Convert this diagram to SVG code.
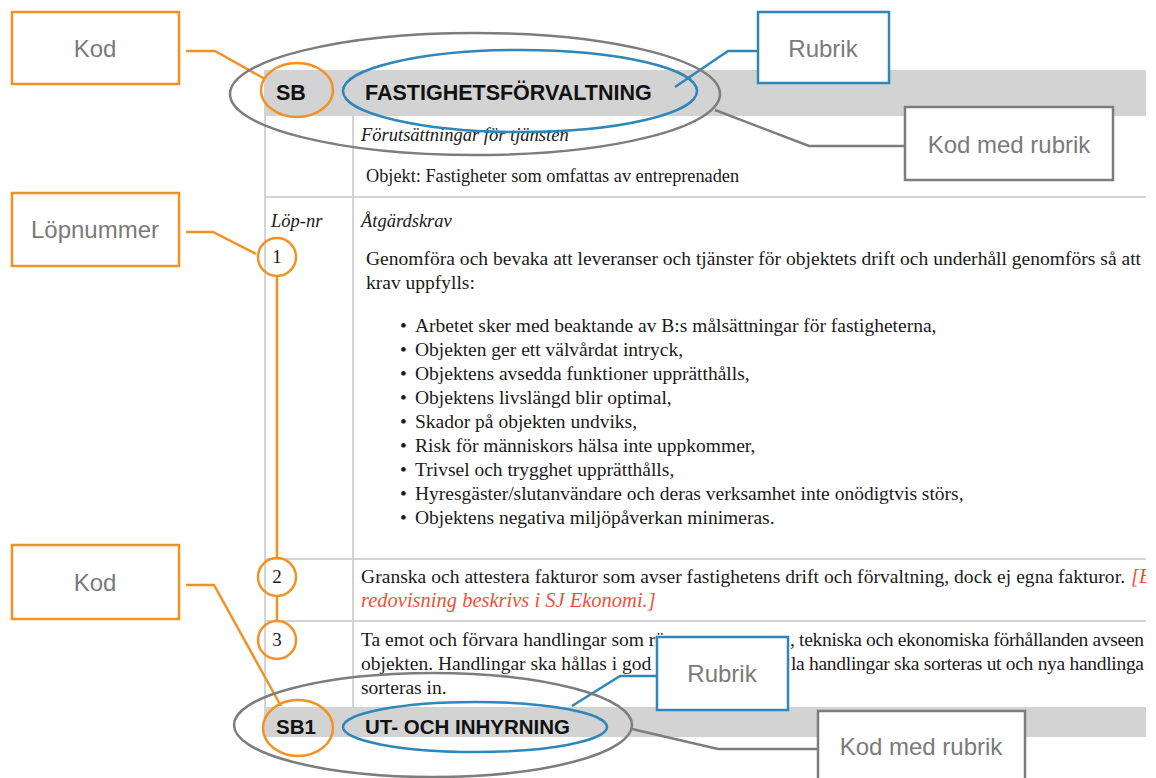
<svg xmlns="http://www.w3.org/2000/svg" width="1156" height="778" viewBox="0 0 1156 778">
<style>
.grid{stroke:#d4d4d4;stroke-width:2;fill:none}
.bar{fill:#d3d3d3}
.hdr{font-family:"Liberation Sans",Arial,sans-serif;font-weight:bold;font-size:21.5px;fill:#111}
.hdr2{font-family:"Liberation Sans",Arial,sans-serif;font-weight:bold;font-size:20.5px;fill:#111}
.ser{font-family:"Liberation Serif","Times New Roman",serif;font-size:19.5px;fill:#1a1a1a}
.ser18{font-family:"Liberation Serif","Times New Roman",serif;font-size:18.3px;fill:#1a1a1a}
.it{font-family:"Liberation Serif","Times New Roman",serif;font-style:italic;font-size:18.5px;fill:#1a1a1a}
.red{font-family:"Liberation Serif","Times New Roman",serif;font-style:italic;font-size:20.5px;fill:#f0503a}
.num{font-family:"Liberation Serif","Times New Roman",serif;font-size:19px;fill:#1a1a1a;text-anchor:middle}
.cbox{fill:#fff;stroke-width:2.5}
.or{stroke:#f39125}
.bl{stroke:#2f86b9}
.gr{stroke:#7d7d7d}
.lbl{font-family:"Liberation Sans",Arial,sans-serif;font-size:24px;fill:#7a7a7a;text-anchor:middle}
.ring{fill:none;stroke-width:2.5}
.conn{fill:none;stroke-width:2.5}
</style>
<defs>
<clipPath id="tbl"><rect x="0" y="0" width="1146" height="778"/></clipPath>
</defs>
<rect width="1156" height="778" fill="#fff"/>
<g id="table" clip-path="url(#tbl)">
<rect class="bar" x="264" y="70" width="882" height="46"/>
<rect class="bar" x="264" y="707" width="882" height="30"/>
<line class="grid" x1="265" y1="116" x2="265" y2="707"/>
<line class="grid" x1="353" y1="116" x2="353" y2="707"/>
<line class="grid" x1="265" y1="197" x2="1146" y2="197"/>
<line class="grid" x1="265" y1="559" x2="1146" y2="559"/>
<line class="grid" x1="265" y1="621" x2="1146" y2="621"/>
<text class="hdr" x="276" y="100">SB</text>
<text class="hdr" x="365" y="100">FASTIGHETSFÖRVALTNING</text>
<text class="it" x="361" y="141">Förutsättningar för tjänsten</text>
<text class="ser18" x="366" y="182">Objekt: Fastigheter som omfattas av entreprenaden</text>
<text class="it" x="271" y="227">Löp-nr</text>
<text class="it" x="361" y="227">Åtgärdskrav</text>
<text class="ser" x="366" y="265" textLength="775">Genomföra och bevaka att leveranser och tjänster för objektets drift och underhåll genomförs så att</text>
<text class="ser" x="366" y="289">krav uppfylls:</text>
<g class="ser">
<text x="400" y="332">•</text><text x="415" y="332">Arbetet sker med beaktande av B:s målsättningar för fastigheterna,</text>
<text x="400" y="356">•</text><text x="415" y="356">Objekten ger ett välvårdat intryck,</text>
<text x="400" y="380">•</text><text x="415" y="380">Objektens avsedda funktioner upprätthålls,</text>
<text x="400" y="404">•</text><text x="415" y="404">Objektens livslängd blir optimal,</text>
<text x="400" y="428">•</text><text x="415" y="428">Skador på objekten undviks,</text>
<text x="400" y="452">•</text><text x="415" y="452">Risk för människors hälsa inte uppkommer,</text>
<text x="400" y="476">•</text><text x="415" y="476">Trivsel och trygghet upprätthålls,</text>
<text x="400" y="500">•</text><text x="415" y="500">Hyresgäster/slutanvändare och deras verksamhet inte onödigtvis störs,</text>
<text x="400" y="524">•</text><text x="415" y="524">Objektens negativa miljöpåverkan minimeras.</text>
</g>
<text class="ser" x="361" y="583" textLength="764">Granska och attestera fakturor som avser fastighetens drift och förvaltning, dock ej egna fakturor.</text>
<text class="red" x="1131" y="583">[E</text>
<text class="red" x="361" y="607">redovisning beskrivs i SJ Ekonomi.]</text>
<text class="ser" x="361" y="646">Ta emot och förvara handlingar som rör</text>
<text class="ser" x="790" y="646" textLength="354">, tekniska och ekonomiska förhållanden avseen</text>
<text class="ser" x="361" y="670">objekten. Handlingar ska hållas i god o</text>
<text class="ser" x="791" y="670" textLength="353">la handlingar ska sorteras ut och nya handlinga</text>
<text class="ser" x="361" y="694">sorteras in.</text>
<text class="hdr2" x="276" y="734">SB1</text>
<text class="hdr2" x="365" y="734">UT- OCH INHYRNING</text>
<text class="num" x="277" y="263">1</text>
<text class="num" x="277" y="583">2</text>
<text class="num" x="277" y="646">3</text>
</g>
<g id="connectors">
<polyline class="conn or" points="186,51 215,51 265,79"/>
<polyline class="conn bl" points="675,87 728,51 758,51"/>
<polyline class="conn gr" points="715,110 809,146 905,146"/>
<polyline class="conn or" points="186,232 213,232 256,254"/>
<line class="conn or" x1="277" y1="276" x2="277" y2="558"/>
<line class="conn or" x1="277" y1="596" x2="277" y2="621"/>
<polyline class="conn or" points="186,585 214,585 281,706"/>
<polyline class="conn bl" points="572,706 620,676 657,676"/>
<polyline class="conn gr" points="632,729 718,749 818,749"/>
</g>
<g id="ellipse-top-kod-med-rubrik"><ellipse class="ring gr" cx="475" cy="94" rx="245" ry="61"/></g>
<g id="ellipse-top-kod"><ellipse class="ring or" cx="297" cy="90" rx="36" ry="27"/></g>
<g id="ellipse-top-rubrik"><ellipse class="ring bl" cx="520" cy="91" rx="177" ry="41"/></g>
<g id="circle-1"><circle class="ring or" cx="277" cy="257" r="19"/></g>
<g id="circle-2"><circle class="ring or" cx="277" cy="577" r="19"/></g>
<g id="circle-3"><circle class="ring or" cx="277" cy="640" r="19"/></g>
<g id="ellipse-bottom-kod-med-rubrik"><ellipse class="ring gr" cx="433" cy="725" rx="199" ry="52"/></g>
<g id="ellipse-bottom-kod"><ellipse class="ring or" cx="298" cy="728" rx="35" ry="28"/></g>
<g id="ellipse-bottom-rubrik"><ellipse class="ring bl" cx="475" cy="727" rx="132" ry="25"/></g>
<g id="box-kod-top"><rect class="cbox or" x="12" y="12" width="167" height="72"/><text class="lbl" x="95" y="57">Kod</text></g>
<g id="box-rubrik-top"><rect class="cbox bl" x="758" y="12" width="131" height="71"/><text class="lbl" x="823" y="57">Rubrik</text></g>
<g id="box-kod-med-rubrik-top"><rect class="cbox gr" x="905" y="107" width="208" height="73"/><text class="lbl" x="1009" y="153">Kod med rubrik</text></g>
<g id="box-lopnummer"><rect class="cbox or" x="12" y="193" width="167" height="73"/><text class="lbl" x="95" y="238">Löpnummer</text></g>
<g id="box-kod-bottom"><rect class="cbox or" x="12" y="545" width="167" height="74"/><text class="lbl" x="95" y="591">Kod</text></g>
<g id="box-rubrik-bottom"><rect class="cbox bl" x="657" y="637" width="131" height="73"/><text class="lbl" x="722" y="682">Rubrik</text></g>
<g id="box-kod-med-rubrik-bottom"><rect class="cbox gr" x="818" y="711" width="207" height="75"/><text class="lbl" x="921" y="755">Kod med rubrik</text></g>
</svg>
